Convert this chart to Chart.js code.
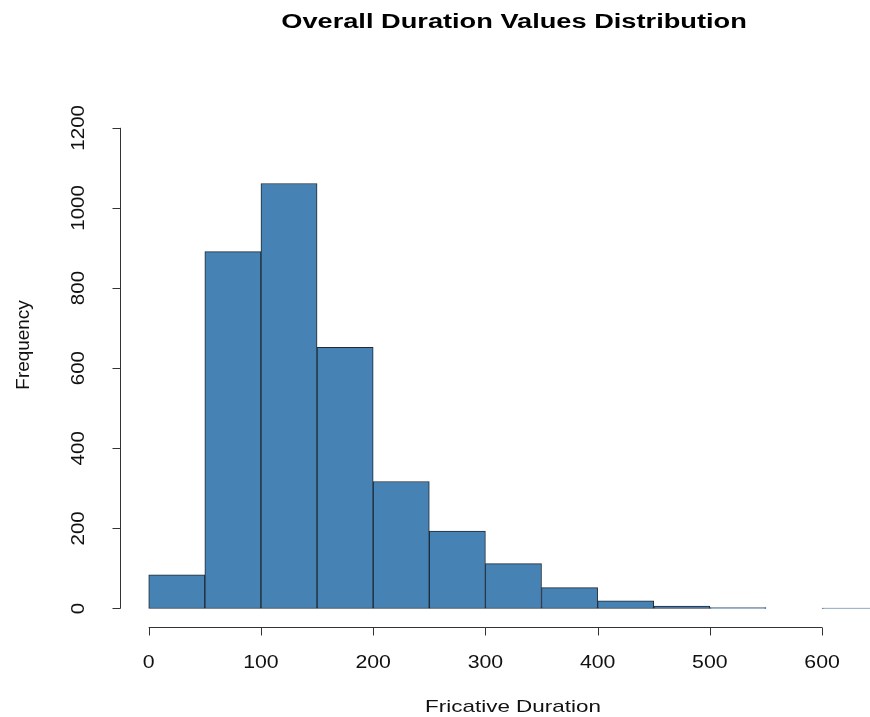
<!DOCTYPE html>
<html>
<head>
<meta charset="utf-8">
<script src="https://cdn.jsdelivr.net/npm/chart.js@4.4.1/dist/chart.umd.min.js"></script>
<style>
  html, body { margin: 0; padding: 0; background: #fff; }
  #wrap { width: 870px; height: 717px; }
</style>
</head>
<body>
<div id="wrap"><canvas id="hist"></canvas></div>
<script>
// histogram bins (width 50) and their counts
var binStarts = [0, 50, 100, 150, 200, 250, 300, 350, 400, 450, 500, 550, 600];
var binWidth = 50;
var counts = [84, 891, 1061, 652, 317, 193, 112, 52, 19, 6, 2, 0, 1];

var xTicks = [0, 100, 200, 300, 400, 500, 600];
var yTicks = [0, 200, 400, 600, 800, 1000, 1200];

var titleText = 'Overall Duration Values Distribution';
var xLabel = 'Fricative Duration';
var yLabel = 'Frequency';

var FONT = '"Liberation Sans", Arial, sans-serif';

var points = binStarts.map(function (s, i) {
  return { x: s + binWidth / 2, y: counts[i] };
});

// text drawn at (x, y), optionally rotated, stretched along its baseline by sx
function putText(ctx, str, x, y, font, sx, rot) {
  ctx.save();
  ctx.translate(x, y);
  if (rot) ctx.rotate(rot);
  ctx.scale(sx, 1);
  ctx.font = font;
  ctx.fillText(str, 0, 0);
  ctx.restore();
}

// R-style detached axes, title and axis labels
var baseAxes = {
  id: 'baseAxes',
  afterDraw: function (chart) {
    var ctx = chart.ctx;
    var xs = chart.scales.x, ys = chart.scales.y;
    var area = chart.chartArea;
    ctx.save();
    ctx.strokeStyle = '#333';
    ctx.lineWidth = 1;
    ctx.fillStyle = '#111';
    ctx.textAlign = 'center';
    ctx.textBaseline = 'middle';

    // x axis
    var ax = Math.round(area.bottom) + 0.5;
    ctx.beginPath();
    ctx.moveTo(xs.getPixelForValue(xTicks[0]), ax);
    ctx.lineTo(xs.getPixelForValue(xTicks[xTicks.length - 1]), ax);
    xTicks.forEach(function (t) {
      var px = Math.round(xs.getPixelForValue(t)) + 0.5;
      ctx.moveTo(px, ax);
      ctx.lineTo(px, ax + 8);
    });
    ctx.stroke();
    xTicks.forEach(function (t) {
      putText(ctx, String(t), xs.getPixelForValue(t), 663, '19px ' + FONT, 1.12, 0);
    });

    // y axis
    var ay = Math.round(area.left) + 0.5;
    ctx.beginPath();
    ctx.moveTo(ay, ys.getPixelForValue(yTicks[0]));
    ctx.lineTo(ay, ys.getPixelForValue(yTicks[yTicks.length - 1]));
    yTicks.forEach(function (t) {
      var py = Math.round(ys.getPixelForValue(t)) + 0.5;
      ctx.moveTo(ay, py);
      ctx.lineTo(ay - 8, py);
    });
    ctx.stroke();
    yTicks.forEach(function (t) {
      putText(ctx, String(t), 79, ys.getPixelForValue(t), '19px ' + FONT, 1.08, -Math.PI / 2);
    });

    // title and axis titles
    ctx.fillStyle = '#000';
    putText(ctx, titleText, 514, 22, 'bold 20px ' + FONT, 1.36, 0);
    ctx.fillStyle = '#111';
    putText(ctx, xLabel, 513, 707, '17px ' + FONT, 1.32, 0);
    putText(ctx, yLabel, 24, 345, '18px ' + FONT, 1.05, -Math.PI / 2);
    ctx.restore();
  }
};

new Chart(document.getElementById('hist'), {
  type: 'bar',
  data: {
    datasets: [{
      data: points,
      backgroundColor: '#4682B4',
      borderColor: '#1e2a36',
      borderWidth: 1,
      borderSkipped: false,
      barPercentage: 1,
      categoryPercentage: 1
    }]
  },
  options: {
    responsive: true,
    maintainAspectRatio: false,
    animation: false,
    layout: { padding: { left: 120, right: 0, top: 109, bottom: 90 } },
    plugins: { legend: { display: false }, tooltip: { enabled: false }, title: { display: false } },
    scales: {
      x: { type: 'linear', display: false, offset: false, min: -25.6, max: 642.7 },
      y: { display: false, min: -46.2, max: 1247 }
    }
  },
  plugins: [baseAxes]
});
</script>
</body>
</html>
